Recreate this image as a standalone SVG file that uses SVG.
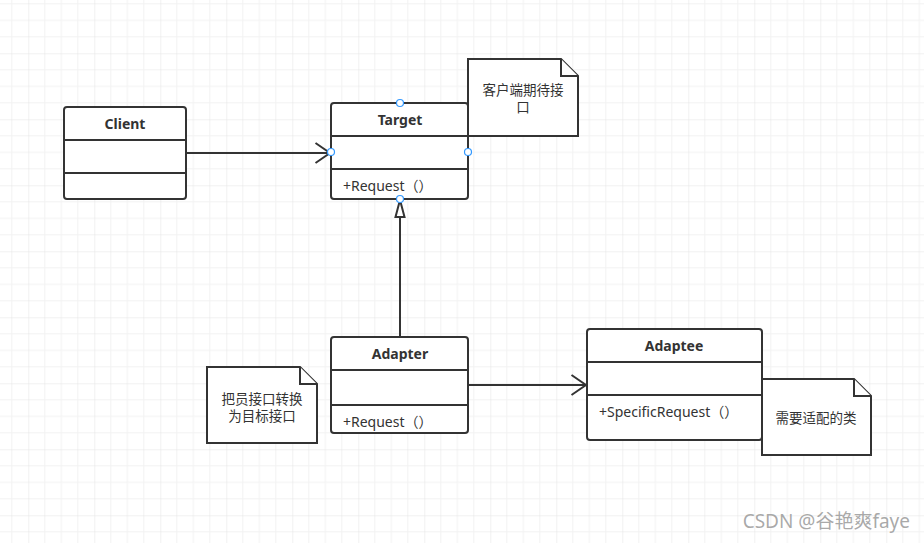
<svg xmlns="http://www.w3.org/2000/svg" width="924" height="543" viewBox="0 0 924 543">
<defs>
<pattern id="grid" patternUnits="userSpaceOnUse" x="28.3" y="53.3" width="66" height="66">
<path d="M16.5 0V66M33 0V66M49.5 0V66M0 16.5H66M0 33H66M0 49.5H66" stroke="#f2f2f2" stroke-width="1" fill="none"/>
<path d="M0 0V66M0 0H66" stroke="#e3e3e3" stroke-width="1" fill="none"/>
</pattern>
<marker id="open" markerUnits="userSpaceOnUse" markerWidth="20" markerHeight="24" refX="16" refY="11" orient="auto">
<path d="M1.5 1L16 11L1.5 21" fill="none" stroke="#333" stroke-width="2"/>
</marker>
</defs>
<style>
.box{fill:#fff;stroke:#333;stroke-width:2}
.div{stroke:#333;stroke-width:2}
.title{font-family:"Noto Sans","Noto Sans CJK SC",sans-serif;font-size:14px;font-weight:bold;fill:#333;text-anchor:middle}
.attr{font-family:"Noto Sans","Noto Sans CJK SC",sans-serif;font-size:14px;fill:#333}
.note{fill:#fff;stroke:#333;stroke-width:2}
.ntext{font-family:"Noto Sans CJK SC",sans-serif;font-size:13.5px;fill:#333;text-anchor:middle}
.line{fill:none;stroke:#333;stroke-width:2}
.pt{fill:#fff;stroke:#3399ff;stroke-width:1.2}
</style>
<rect width="924" height="543" fill="#fff"/>
<rect width="924" height="543" fill="url(#grid)"/>

<g id="connectors">
<path class="line" d="M186 153H330" marker-end="url(#open)"/>
<path class="line" d="M400 337V217"/>
<path d="M400 200L395.5 217H404.5Z" fill="#fff" stroke="#333" stroke-width="2" stroke-linejoin="miter"/>
<path class="line" d="M469 385H586" marker-end="url(#open)"/>
</g>

<g id="client">
<rect class="box" x="64" y="107" width="122" height="92" rx="3"/>
<line class="div" x1="64" y1="140" x2="186" y2="140"/>
<line class="div" x1="64" y1="173" x2="186" y2="173"/>
<text class="title" x="125" y="129">Client</text>
</g>

<g id="target">
<rect class="box" x="331" y="103" width="137" height="96" rx="3"/>
<line class="div" x1="331" y1="136" x2="468" y2="136"/>
<line class="div" x1="331" y1="169" x2="468" y2="169"/>
<text class="title" x="400" y="125">Target</text>
<text class="attr" x="343" y="191">+Request（）</text>
</g>

<g id="target-note">
<path class="note" d="M468 59H561L578 76V136H468Z"/>
<path class="note" d="M561 59V76H578" fill="none"/>
<text class="ntext" x="523" y="95">客户端期待接</text>
<text class="ntext" x="523" y="111.5">口</text>
</g>

<g id="target-points">
<circle class="pt" cx="400" cy="103" r="3.5"/>
<circle class="pt" cx="331" cy="152" r="3.5"/>
<circle class="pt" cx="468" cy="152" r="3.5"/>
<circle class="pt" cx="400" cy="199" r="3.5"/>
</g>

<g id="adapter">
<rect class="box" x="331" y="337" width="137" height="96" rx="3"/>
<line class="div" x1="331" y1="370" x2="468" y2="370"/>
<line class="div" x1="331" y1="405" x2="468" y2="405"/>
<text class="title" x="400" y="359">Adapter</text>
<text class="attr" x="343" y="427">+Request（）</text>
</g>

<g id="adapter-note">
<path class="note" d="M207 367H300L317 384V443H207Z"/>
<path class="note" d="M300 367V384H317" fill="none"/>
<text class="ntext" x="262" y="403.5">把员接口转换</text>
<text class="ntext" x="262" y="421">为目标接口</text>
</g>

<g id="adaptee">
<rect class="box" x="587" y="329" width="175" height="111" rx="3"/>
<line class="div" x1="587" y1="362" x2="762" y2="362"/>
<line class="div" x1="587" y1="395" x2="762" y2="395"/>
<text class="title" x="674" y="351">Adaptee</text>
<text class="attr" x="599" y="417">+SpecificRequest（）</text>
</g>

<g id="adaptee-note">
<path class="note" d="M762 379H854L871 396V455H762Z"/>
<path class="note" d="M854 379V396H871" fill="none"/>
<text class="ntext" x="816" y="423">需要适配的类</text>
</g>

<text x="910" y="528" font-family="Noto Sans,Noto Sans CJK SC,sans-serif" font-size="19" fill="#9a9a9a" fill-opacity="0.85" text-anchor="end">CSDN @谷艳爽faye</text>
</svg>
